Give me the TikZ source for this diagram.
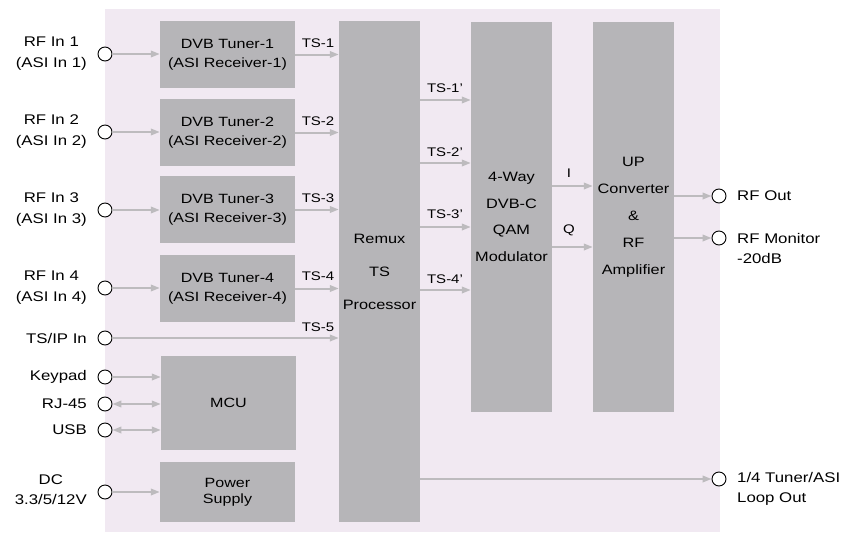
\documentclass[tikz,border=0pt]{standalone}
\usepackage{fontspec}
\setmainfont{Liberation Sans}[FakeStretch=1.2]
\usetikzlibrary{arrows.meta}
\definecolor{bgpink}{HTML}{F1E9F2}
\definecolor{boxgray}{HTML}{B6B5B8}
\definecolor{linegray}{HTML}{BDBBBE}
\begin{document}
\begin{tikzpicture}[x=1pt,y=-1pt,
 blk/.style={fill=boxgray,draw=none,inner sep=0pt,align=center,font=\fontsize{13.4}{19}\selectfont},
 port/.style={circle,draw=black,fill=white,line width=0.9pt,minimum size=14pt,inner sep=0pt},
 tip/.tip={Triangle[length=9pt,width=6.5pt]},
 arr/.style={draw=linegray,line width=2pt,-tip},
 barr/.style={draw=linegray,line width=2pt,tip-tip},
 lbl/.style={font=\fontsize{14}{21}\selectfont,align=center,inner sep=0pt},
 sig/.style={font=\fontsize{12.5}{14}\selectfont,inner sep=0pt}]
\useasboundingbox (0,0) rectangle (844,533);
\fill[bgpink] (105,9) rectangle (720,532);
% blocks
\node[blk,minimum width=135pt,minimum height=67pt] (t1) at (227.5,54.5) {DVB Tuner-1\\(ASI Receiver-1)};
\node[blk,minimum width=135pt,minimum height=67pt] (t2) at (227.5,132.5) {DVB Tuner-2\\(ASI Receiver-2)};
\node[blk,minimum width=135pt,minimum height=67pt] (t3) at (227.5,209.5) {DVB Tuner-3\\(ASI Receiver-3)};
\node[blk,minimum width=135pt,minimum height=67pt] (t4) at (227.5,288.5) {DVB Tuner-4\\(ASI Receiver-4)};
\node[blk,minimum width=135pt,minimum height=94pt] (mcu) at (228.5,403) {MCU};
\node[blk,minimum width=135pt,minimum height=60pt,font=\fontsize{13.4}{16}\selectfont] (ps) at (227.5,492) {Power\\Supply};
\node[blk,minimum width=81pt,minimum height=501pt,font=\fontsize{13.6}{33}\selectfont] (remux) at (379.5,271.5) {Remux\\TS\\Processor};
\node[blk,minimum width=81pt,minimum height=390pt,font=\fontsize{13.6}{26.7}\selectfont] (mod) at (511.5,217) {4-Way\\DVB-C\\QAM\\Modulator};
\node[blk,minimum width=81pt,minimum height=390pt,font=\fontsize{13.6}{27}\selectfont] (up) at (633.5,217) {UP\\Converter\\\&\\RF\\Amplifier};
% input ports
\node[port] (c1) at (105,54) {};
\node[port] (c2) at (105,132) {};
\node[port] (c3) at (105,210) {};
\node[port] (c4) at (105,288) {};
\node[port] (c5) at (105,338) {};
\node[port] (ck) at (105,377) {};
\node[port] (cr) at (105,404) {};
\node[port] (cu) at (105,430) {};
\node[port] (cd) at (105,492) {};
% output ports
\node[port] (co1) at (719,196) {};
\node[port] (co2) at (719,238) {};
\node[port] (co3) at (719,479) {};
% left labels
\node[lbl,anchor=east] (l1) at (87,54) {RF In 1\\(ASI In 1)};
\node[lbl,anchor=east] (l2) at (87,132) {RF In 2\\(ASI In 2)};
\node[lbl,anchor=east] (l3) at (87,210) {RF In 3\\(ASI In 3)};
\node[lbl,anchor=east] (l4) at (87,288) {RF In 4\\(ASI In 4)};
\node[lbl,anchor=east] (l5) at (87,338) {TS/IP In};
\node[lbl,anchor=east] (lk) at (87,377) {Keypad};
\node[lbl,anchor=east] (lr) at (87,404) {RJ-45};
\node[lbl,anchor=east] (lu) at (87,430) {USB};
\node[lbl,anchor=east,font=\fontsize{14}{20}\selectfont] (ld) at (87,490) {DC\\3.3/5/12V};
% right labels
\node[lbl,anchor=west] (lo1) at (737,196) {RF Out};
\node[lbl,anchor=west,align=left,font=\fontsize{14}{20}\selectfont] (lo2) at (737,248) {RF Monitor\\-20dB};
\node[lbl,anchor=west,align=left,font=\fontsize{14}{20}\selectfont] (lo3) at (737,489) {1/4 Tuner/ASI\\Loop Out};
% input arrows
\draw[arr] (c1.east) -- (c1 -| t1.west);
\draw[arr] (c2.east) -- (c2 -| t2.west);
\draw[arr] (c3.east) -- (c3 -| t3.west);
\draw[arr] (c4.east) -- (c4 -| t4.west);
\draw[arr] (c5.east) -- (c5 -| remux.west);
\draw[arr] (ck.east) -- (ck -| mcu.west);
\draw[barr] (cr.east) -- (cr -| mcu.west);
\draw[barr] (cu.east) -- (cu -| mcu.west);
\draw[arr] (cd.east) -- (cd -| ps.west);
% tuner outputs
\draw[arr] (t1.east) -- (t1 -| remux.west);
\draw[arr] (t2.east) -- (t2 -| remux.west);
\draw[arr] (t3.east) -- (t3 -| remux.west);
\draw[arr] (t4.east) -- (t4 -| remux.west);
% remux to modulator
\coordinate (y1) at (0,100);
\coordinate (y2) at (0,163);
\coordinate (y3) at (0,227);
\coordinate (y4) at (0,290);
\coordinate (yi) at (0,186);
\coordinate (yq) at (0,247);
\draw[arr] (remux.east |- y1) -- (mod.west |- y1);
\draw[arr] (remux.east |- y2) -- (mod.west |- y2);
\draw[arr] (remux.east |- y3) -- (mod.west |- y3);
\draw[arr] (remux.east |- y4) -- (mod.west |- y4);
\draw[arr] (mod.east |- yi) -- (up.west |- yi);
\draw[arr] (mod.east |- yq) -- (up.west |- yq);
\draw[arr] (up.east |- co1) -- (co1.west);
\draw[arr] (up.east |- co2) -- (co2.west);
\draw[arr] (remux.east |- co3) -- (co3.west);
% signal labels
\node[sig] (s1) at (318,43) {TS-1};
\node[sig] (s2) at (318,121) {TS-2};
\node[sig] (s3) at (318,198) {TS-3};
\node[sig] (s4) at (318,276) {TS-4};
\node[sig] (s5) at (318,327) {TS-5};
\node[sig] (p1) at (445,88) {TS-1'};
\node[sig] (p2) at (445,152) {TS-2'};
\node[sig] (p3) at (445,214) {TS-3'};
\node[sig] (p4) at (445,279) {TS-4'};
\node[sig] (si) at (569,173) {I};
\node[sig] (sq) at (569,230) {Q};
\end{tikzpicture}
\end{document}
